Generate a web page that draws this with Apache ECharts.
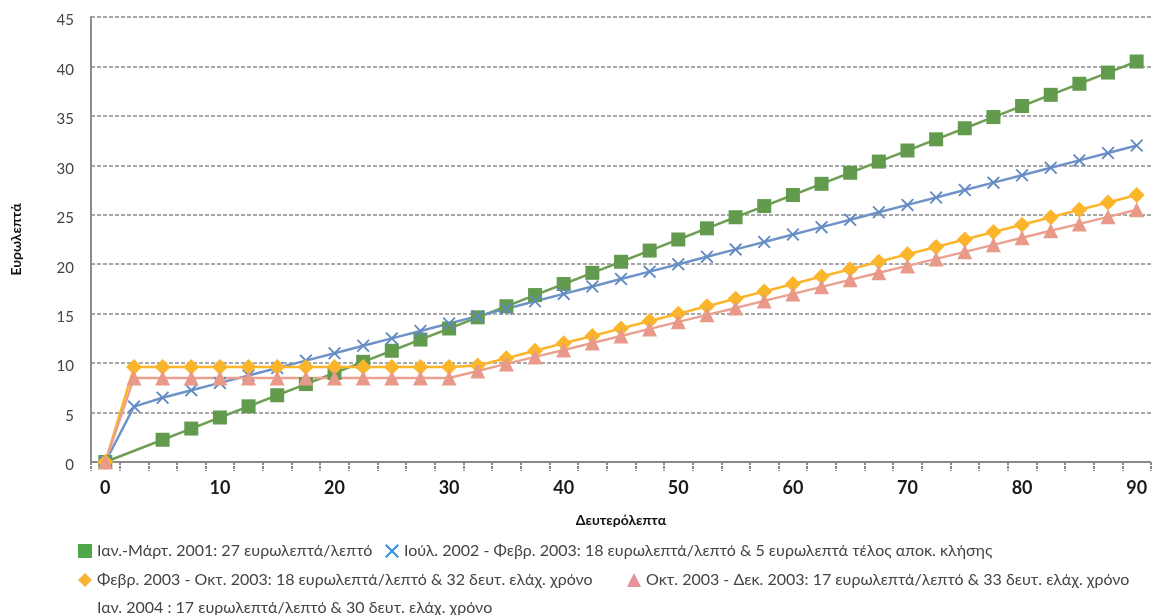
<!DOCTYPE html>
<html>
<head>
<meta charset="utf-8">
<script src="https://cdn.jsdelivr.net/npm/echarts@6/dist/echarts.min.js"></script>
<style>
html,body{margin:0;padding:0;background:#fff;}
#chart{width:1156px;height:615px;}
</style>
</head>
<body>
<div id="chart"></div>
<script>
// Seconds (categories)
const seconds = ['0','2.5','5','7.5','10','12.5','15','17.5','20','22.5','25','27.5','30','32.5','35','37.5','40','42.5','45','47.5','50','52.5','55','57.5','60','62.5','65','67.5','70','72.5','75','77.5','80','82.5','85','87.5','90'];

const seriesNames = [
  'Ιαν.-Μάρτ. 2001: 27 ευρωλεπτά/λεπτό',
  'Ιούλ. 2002 - Φεβρ. 2003: 18 ευρωλεπτά/λεπτό & 5 ευρωλεπτά τέλος αποκ. κλήσης',
  'Φεβρ. 2003 - Οκτ. 2003: 18 ευρωλεπτά/λεπτό & 32 δευτ. ελάχ. χρόνο',
  'Οκτ. 2003 - Δεκ. 2003: 17 ευρωλεπτά/λεπτό & 33 δευτ. ελάχ. χρόνο',
  'Ιαν. 2004 : 17 ευρωλεπτά/λεπτό & 30 δευτ. ελάχ. χρόνο'
];

const green = [0,null,2.25,3.38,4.5,5.63,6.75,7.88,9,10.13,11.25,12.38,13.5,14.63,15.75,16.88,18,19.13,20.25,21.38,22.5,23.63,24.75,25.88,27,28.13,29.25,30.38,31.5,32.63,33.75,34.88,36,37.13,38.25,39.38,40.5];
const blue = [0,5.6,6.5,7.25,8,8.75,9.5,10.25,11,11.75,12.5,13.25,14,14.75,15.5,16.25,17,17.75,18.5,19.25,20,20.75,21.5,22.25,23,23.75,24.5,25.25,26,26.75,27.5,28.25,29,29.75,30.5,31.25,32];
const orange = [0,9.6,9.6,9.6,9.6,9.6,9.6,9.6,9.6,9.6,9.6,9.6,9.6,9.75,10.5,11.25,12,12.75,13.5,14.25,15,15.75,16.5,17.25,18,18.75,19.5,20.25,21,21.75,22.5,23.25,24,24.75,25.5,26.25,27];
const pink = [0,8.5,8.5,8.5,8.5,8.5,8.5,8.5,8.5,8.5,8.5,8.5,8.5,9.21,9.92,10.63,11.33,12.04,12.75,13.46,14.17,14.88,15.58,16.29,17,17.71,18.42,19.13,19.83,20.54,21.25,21.96,22.67,23.38,24.08,24.79,25.5];
const jan2004 = [];

const yTicks = {min:0, max:45, step:5};

const FONT = 'Lato, "Open Sans", "DejaVu Sans", sans-serif';
const xPath = 'path://M1,0L5,4L9,0L10,1L6,5L10,9L9,10L5,6L1,10L0,9L4,5L0,1Z';

const chart = echarts.init(document.getElementById('chart'));

function legendAt(name, left, top, icon, color) {
  return {
    left: left, top: top,
    itemWidth: 14, itemHeight: 14,
    itemGap: 0,
    textStyle: {fontFamily: FONT, fontSize: 16, color: '#444'},
    data: [{name: name, icon: icon, itemStyle: {color: color}}]
  };
}

const option = {
  backgroundColor: '#fff',
  animation: false,
  textStyle: {fontFamily: FONT},
  grid: {left: 91, right: 5, top: 17, height: 445, containLabel: false},
  legend: [
    legendAt(seriesNames[0], 73, 538, 'rect', '#4ea84a'),
    legendAt(seriesNames[1], 380, 538, xPath, '#2f8fe0'),
    legendAt(seriesNames[2], 73, 567, 'diamond', '#f9b234'),
    legendAt(seriesNames[3], 622, 567, 'triangle', '#e8939a'),
    legendAt(seriesNames[4], 73, 595, 'none', '#ffffff')
  ],
  xAxis: {
    type: 'category',
    data: seconds,
    boundaryGap: true,
    name: 'Δευτερόλεπτα',
    nameLocation: 'middle',
    nameGap: 51,
    nameTextStyle: {fontFamily: FONT, fontWeight: 'bold', fontSize: 14, color: '#111'},
    axisLine: {show: true, lineStyle: {color: '#8a8a8a', width: 2, type: [3, 1]}},
    axisTick: {show: true, interval: 0, length: 9, lineStyle: {color: '#8a8a8a', width: 2, type: [3, 1]}},
    axisLabel: {
      interval: function (index) { return index % 4 === 0; },
      fontFamily: FONT, fontWeight: 'bold', fontSize: 18, color: '#1a1a1a', margin: 17
    },
    splitLine: {show: false}
  },
  yAxis: {
    type: 'value',
    min: yTicks.min, max: yTicks.max, interval: yTicks.step,
    name: 'Ευρωλεπτά',
    nameLocation: 'middle',
    nameRotate: 90,
    nameGap: 68,
    nameTextStyle: {fontFamily: FONT, fontWeight: 'bold', fontSize: 14, color: '#111'},
    axisLine: {show: true, lineStyle: {color: '#8a8a8a', width: 2, type: [3, 1]}},
    axisTick: {show: false},
    axisLabel: {fontFamily: FONT, fontSize: 15, color: '#444', margin: 17, verticalAlign: 'top', padding: [-4, 0, 0, 0]},
    splitLine: {show: true, lineStyle: {color: '#8c8c8c', width: 1.5, type: [4, 2]}}
  },
  series: [
    {
      name: seriesNames[0], type: 'line', data: green, connectNulls: true,
      symbol: 'rect', symbolSize: 14,
      lineStyle: {color: '#6f9e55', width: 2.5},
      itemStyle: {color: '#629a4e'}
    },
    {
      name: seriesNames[1], type: 'line', data: blue,
      symbol: xPath, symbolSize: 13,
      lineStyle: {color: '#6f93c8', width: 2.5},
      itemStyle: {color: '#6189c2'}
    },
    {
      name: seriesNames[2], type: 'line', data: orange,
      symbol: 'diamond', symbolSize: 16,
      lineStyle: {color: '#fbb52a', width: 2.5},
      itemStyle: {color: '#fbb52a'}
    },
    {
      name: seriesNames[3], type: 'line', data: pink,
      symbol: 'triangle', symbolSize: 15,
      lineStyle: {color: '#eaa18e', width: 2.5},
      itemStyle: {color: '#e8998a'}
    },
    {
      name: seriesNames[4], type: 'line', data: jan2004,
      symbol: 'none',
      lineStyle: {color: '#ffffff', width: 0},
      itemStyle: {color: '#ffffff'}
    }
  ]
};

chart.setOption(option);
</script>
</body>
</html>
